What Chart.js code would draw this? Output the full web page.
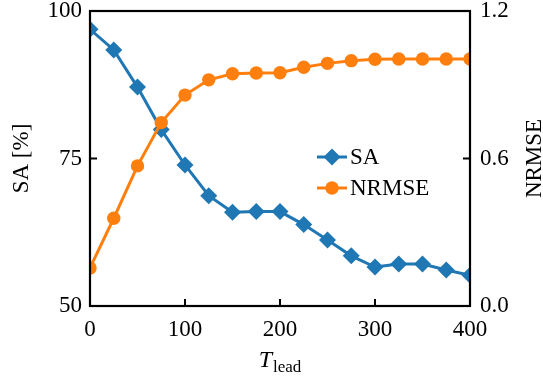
<!DOCTYPE html>
<html>
<head>
<meta charset="utf-8">
<script src="https://cdn.jsdelivr.net/npm/chart.js@4/dist/chart.umd.min.js"></script>
<style>
  html, body { margin: 0; padding: 0; background: #fff; }
  #wrap { width: 543px; height: 379px; }
</style>
</head>
<body>
<div id="wrap"><canvas id="chart" width="543" height="379"></canvas></div>
<script>
const leadTimes = [0, 25, 50, 75, 100, 125, 150, 175, 200, 225, 250, 275, 300, 325, 350, 375, 400];
const saValues = [96.9, 93.4, 87.1, 79.9, 73.9, 68.7, 65.9, 66.0, 66.0, 63.8, 61.2, 58.5, 56.6, 57.1, 57.1, 56.1, 55.2];
const nrmseValues = [0.155, 0.357, 0.57, 0.746, 0.858, 0.92, 0.945, 0.948, 0.949, 0.971, 0.987, 0.998, 1.004, 1.005, 1.005, 1.005, 1.005];
const xTicks = [0, 100, 200, 300, 400];
const saTicks = [50, 75, 100];
const nrmseTicks = [0, 0.6, 1.2];

const BLUE = '#1f77b4';
const ORANGE = '#ff7f0e';
const FONT = '"Liberation Serif", "DejaVu Serif", serif';
const FSIZE = 23;

const toPoints = (xs, ys) => xs.map((x, i) => ({ x: x, y: ys[i] }));

// fixed axis sizes so the plot area sits where the reference has it
function fixSize(prop, size) {
    return s => {
        s[prop] = size;
        s.paddingTop = 0; s.paddingBottom = 0;
        s.paddingLeft = 0; s.paddingRight = 0;
    };
}

// frame, inward ticks, legend and axis titles
const decorations = {
    id: 'decorations',
    afterDraw(chart) {
        const ctx = chart.ctx;
        const a = chart.chartArea;
        const sx = chart.scales.x, sl = chart.scales.y, sr = chart.scales.y1;
        const tick = 7;

        ctx.save();
        ctx.strokeStyle = '#000';
        ctx.lineWidth = 2;
        ctx.beginPath();
        xTicks.forEach(v => { const p = sx.getPixelForValue(v); ctx.moveTo(p, a.bottom); ctx.lineTo(p, a.bottom - tick); });
        saTicks.forEach(v => { const p = sl.getPixelForValue(v); ctx.moveTo(a.left, p); ctx.lineTo(a.left + tick, p); });
        nrmseTicks.forEach(v => { const p = sr.getPixelForValue(v); ctx.moveTo(a.right, p); ctx.lineTo(a.right - tick, p); });
        ctx.stroke();
        ctx.lineWidth = 2.2;
        ctx.strokeRect(a.left, a.top, a.right - a.left, a.bottom - a.top);

        // legend
        const lx = a.left + 227, ly = a.top + 146, gap = 31;
        const entries = [
            { label: 'SA', color: BLUE, style: 'rectRot', r: 8.5 },
            { label: 'NRMSE', color: ORANGE, style: 'circle', r: 6.7 }
        ];
        entries.forEach((e, i) => {
            const y = ly + i * gap;
            ctx.strokeStyle = e.color;
            ctx.lineWidth = 3;
            ctx.beginPath();
            ctx.moveTo(lx, y);
            ctx.lineTo(lx + 30, y);
            ctx.stroke();
            ctx.fillStyle = e.color;
            Chart.helpers.drawPoint(ctx, { pointStyle: e.style, radius: e.r, rotation: 0, borderWidth: 0 }, lx + 15, y);
            ctx.fillStyle = '#000';
            ctx.font = FSIZE + 'px ' + FONT;
            ctx.textAlign = 'left';
            ctx.textBaseline = 'middle';
            ctx.fillText(e.label, lx + 33, y + 1);
        });

        // axis titles
        const midY = (a.top + a.bottom) / 2;
        ctx.fillStyle = '#000';
        ctx.font = FSIZE + 'px ' + FONT;
        ctx.textAlign = 'center';
        ctx.textBaseline = 'middle';
        ctx.save();
        ctx.translate(22, midY);
        ctx.rotate(-Math.PI / 2);
        ctx.fillText('SA [%]', 0, 0);
        ctx.restore();
        ctx.save();
        ctx.translate(535, midY);
        ctx.rotate(-Math.PI / 2);
        ctx.fillText('NRMSE', 0, 0);
        ctx.restore();

        const midX = (a.left + a.right) / 2;
        ctx.textAlign = 'left';
        ctx.textBaseline = 'alphabetic';
        ctx.font = 'italic 24px ' + FONT;
        const tw = ctx.measureText('T').width;
        ctx.font = '17px ' + FONT;
        const sw = ctx.measureText('lead').width;
        const x0 = midX - (tw + 1 + sw) / 2;
        ctx.font = 'italic 24px ' + FONT;
        ctx.fillText('T', x0, 367);
        ctx.font = '17px ' + FONT;
        ctx.fillText('lead', x0 + tw + 1, 372);
        ctx.restore();
    }
};

const tickFont = { family: FONT, size: FSIZE, lineHeight: 1 };

new Chart(document.getElementById('chart'), {
    type: 'line',
    data: {
        datasets: [
            {
                label: 'SA',
                data: toPoints(leadTimes, saValues),
                yAxisID: 'y',
                borderColor: BLUE,
                backgroundColor: BLUE,
                borderWidth: 3,
                pointStyle: 'rectRot',
                pointRadius: 8.5,
                pointBorderWidth: 0,
                order: 2,
                clip: 0
            },
            {
                label: 'NRMSE',
                data: toPoints(leadTimes, nrmseValues),
                yAxisID: 'y1',
                borderColor: ORANGE,
                backgroundColor: ORANGE,
                borderWidth: 3,
                pointStyle: 'circle',
                pointRadius: 6.7,
                pointBorderWidth: 0,
                order: 1,
                clip: 0
            }
        ]
    },
    options: {
        responsive: false,
        animation: false,
        events: [],
        layout: { padding: { top: 11, left: 0, right: 0, bottom: 0 } },
        plugins: { legend: { display: false }, tooltip: { enabled: false } },
        scales: {
            x: {
                type: 'linear',
                min: 0,
                max: 400,
                afterFit: fixSize('height', 73),
                afterBuildTicks: s => { s.ticks = xTicks.map(v => ({ value: v })); },
                grid: { display: false, drawTicks: false },
                border: { display: false },
                ticks: { color: '#000', padding: 12, maxRotation: 0, font: tickFont }
            },
            y: {
                position: 'left',
                min: 50,
                max: 100,
                afterFit: fixSize('width', 90),
                afterBuildTicks: s => { s.ticks = saTicks.map(v => ({ value: v })); },
                grid: { display: false, drawTicks: false },
                border: { display: false },
                ticks: { color: '#000', padding: 8, font: tickFont }
            },
            y1: {
                position: 'right',
                min: 0,
                max: 1.2,
                afterFit: fixSize('width', 73),
                afterBuildTicks: s => { s.ticks = nrmseTicks.map(v => ({ value: v })); },
                grid: { display: false, drawTicks: false },
                border: { display: false },
                ticks: { color: '#000', padding: 10, font: tickFont, callback: v => v.toFixed(1) }
            }
        }
    },
    plugins: [decorations]
});
</script>
</body>
</html>
